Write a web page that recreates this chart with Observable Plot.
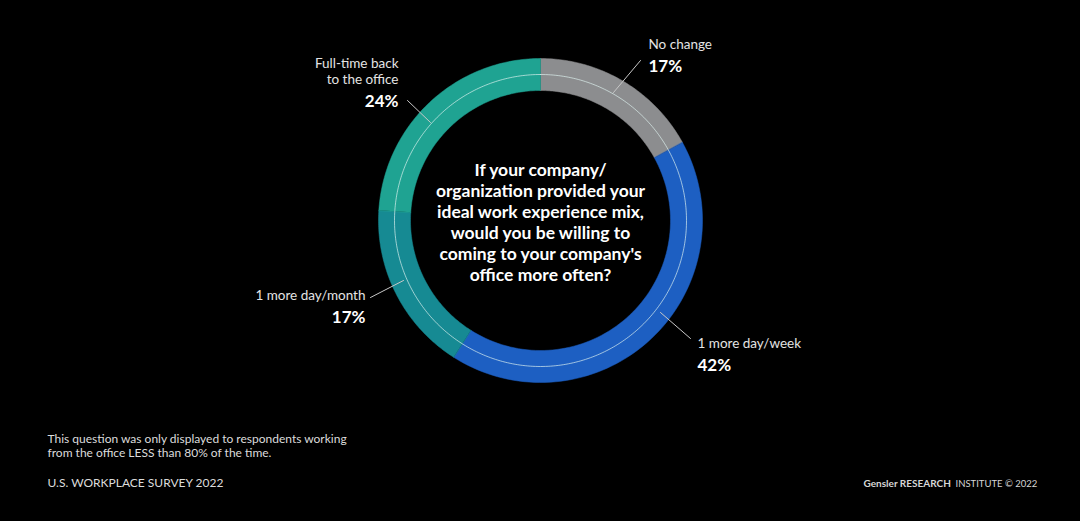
<!DOCTYPE html>
<html>
<head>
<meta charset="utf-8">
<script src="https://cdn.jsdelivr.net/npm/d3@7"></script>
<script src="https://cdn.jsdelivr.net/npm/@observablehq/plot@0.6"></script>
<style>
  html, body { margin: 0; padding: 0; background: #000; }
  #chart { width: 1080px; height: 521px; overflow: hidden; }
</style>
</head>
<body>
<div id="chart"></div>
<script>
// ---- data ----
const categories = ["No change", "1 more day/week", "1 more day/month", "Full-time back to the office"];
const labels = ["No change", "1 more day/week", "1 more day/month", "Full-time back\nto the office"];
const values = [17, 42, 17, 24];
const question = "If your company/\norganization provided your\nideal work experience mix,\nwould you be willing to\ncoming to your company's\noffice more often?";
const footnote = "This question was only displayed to respondents working\nfrom the office LESS than 80% of the time.";
const surveyName = "U.S. WORKPLACE SURVEY 2022";
const creditBold = "Gensler RESEARCH";
const creditRegular = "INSTITUTE © 2022";

// ---- layout (not data) ----
const W = 1080, H = 521;
const cx = 540, cy = 220, rOuter = 162, rInner = 130, rGuide = 146;
const palette = ["#8c8d8f", "#1d5fc2", "#168a93", "#1fa392"];
// label anchor and leader lines, one per category
const labelLayout = [
  {x: 648, y: 48, anchor: "start", leader: [[613, 92], [640, 60]]},
  {x: 697, y: 347, anchor: "start", leader: [[660, 312], [690, 338]]},
  {x: 365, y: 299, anchor: "end", leader: [[403, 280], [370, 297]]},
  {x: 398, y: 83, anchor: "end", leader: [[430, 122], [407, 100]]}
];

// ---- derived geometry from values ----
const total = d3.sum(values);
const arcs = [];
let acc = 0;
values.forEach((v, i) => {
  const a0 = acc / total * 2 * Math.PI;
  acc += v;
  const a1 = acc / total * 2 * Math.PI;
  const n = 80;
  for (let k = 0; k <= n; k++) {
    const a = a0 + (a1 - a0) * k / n;
    arcs.push({cat: categories[i], x: cx + rOuter * Math.sin(a), y: cy - rOuter * Math.cos(a)});
  }
  for (let k = n; k >= 0; k--) {
    const a = a0 + (a1 - a0) * k / n;
    arcs.push({cat: categories[i], x: cx + rInner * Math.sin(a), y: cy - rInner * Math.cos(a)});
  }
});
const guide = d3.range(0, 361).map(d => {
  const a = d / 180 * Math.PI;
  return {x: cx + rGuide * Math.sin(a), y: cy - rGuide * Math.cos(a)};
});
const leaders = labelLayout.flatMap((l, i) => l.leader.map(([x, y]) => ({cat: categories[i], x, y})));
const labelRows = categories.map((c, i) => ({
  cat: c, text: labels[i], pct: values[i] + "%",
  x: labelLayout[i].x, y: labelLayout[i].y, anchor: labelLayout[i].anchor
}));
const leftRows = labelRows.filter(d => d.anchor === "end");
const rightRows = labelRows.filter(d => d.anchor === "start");

function labelMarks(rows, anchor) {
  return [
    Plot.text(rows, {x: "x", y: "y", text: "text", textAnchor: anchor, fill: "#e4e4e4", fontSize: 13.5, lineHeight: 1.15, lineAnchor: "bottom"}),
    Plot.text(rows, {x: "x", y: "y", dy: 23, text: "pct", textAnchor: anchor, fill: "#fff", fontSize: 17, fontWeight: "bold", lineAnchor: "bottom", letterSpacing: "0.6px"})
  ];
}

const chart = Plot.plot({
  width: W, height: H, margin: 0,
  x: {domain: [0, W], range: [0, W], axis: null},
  y: {domain: [0, H], range: [0, H], axis: null},
  color: {domain: categories, range: palette},
  style: {background: "#000", fontFamily: "Lato, 'Open Sans', sans-serif"},
  marks: [
    Plot.line(arcs, {x: "x", y: "y", z: "cat", fill: "cat", stroke: "cat", strokeWidth: 0.5, curve: "linear-closed"}),
    Plot.line(guide, {x: "x", y: "y", stroke: "#dff3f0", strokeWidth: 0.9, strokeOpacity: 0.75}),
    Plot.line(leaders, {x: "x", y: "y", z: "cat", stroke: "#c8c8c8", strokeWidth: 1}),
    Plot.text([question], {x: cx, y: cy + 1, text: d => d, fill: "#fff", fontSize: 17.5, fontWeight: "bold", lineHeight: 1.2, lineAnchor: "middle", textAnchor: "middle"}),
    ...labelMarks(leftRows, "end"),
    ...labelMarks(rightRows, "start"),
    // footnotes
    Plot.text([footnote], {x: 47, y: 456, text: d => d, textAnchor: "start", fill: "#dcdcdc", fontSize: 12, lineHeight: 1.1, lineAnchor: "bottom"}),
    Plot.text([surveyName], {x: 47, y: 486, text: d => d, textAnchor: "start", fill: "#dcdcdc", fontSize: 12, lineAnchor: "bottom"}),
    Plot.text([creditBold], {x: 863, y: 486, text: d => d, textAnchor: "start", fill: "#d6d6d6", fontSize: 10, fontWeight: "bold", lineAnchor: "bottom"}),
    Plot.text([creditRegular], {x: 955, y: 486, text: d => d, textAnchor: "start", fill: "#d6d6d6", fontSize: 9.5, lineAnchor: "bottom"})
  ]
});
document.getElementById("chart").appendChild(chart);
</script>
</body>
</html>
